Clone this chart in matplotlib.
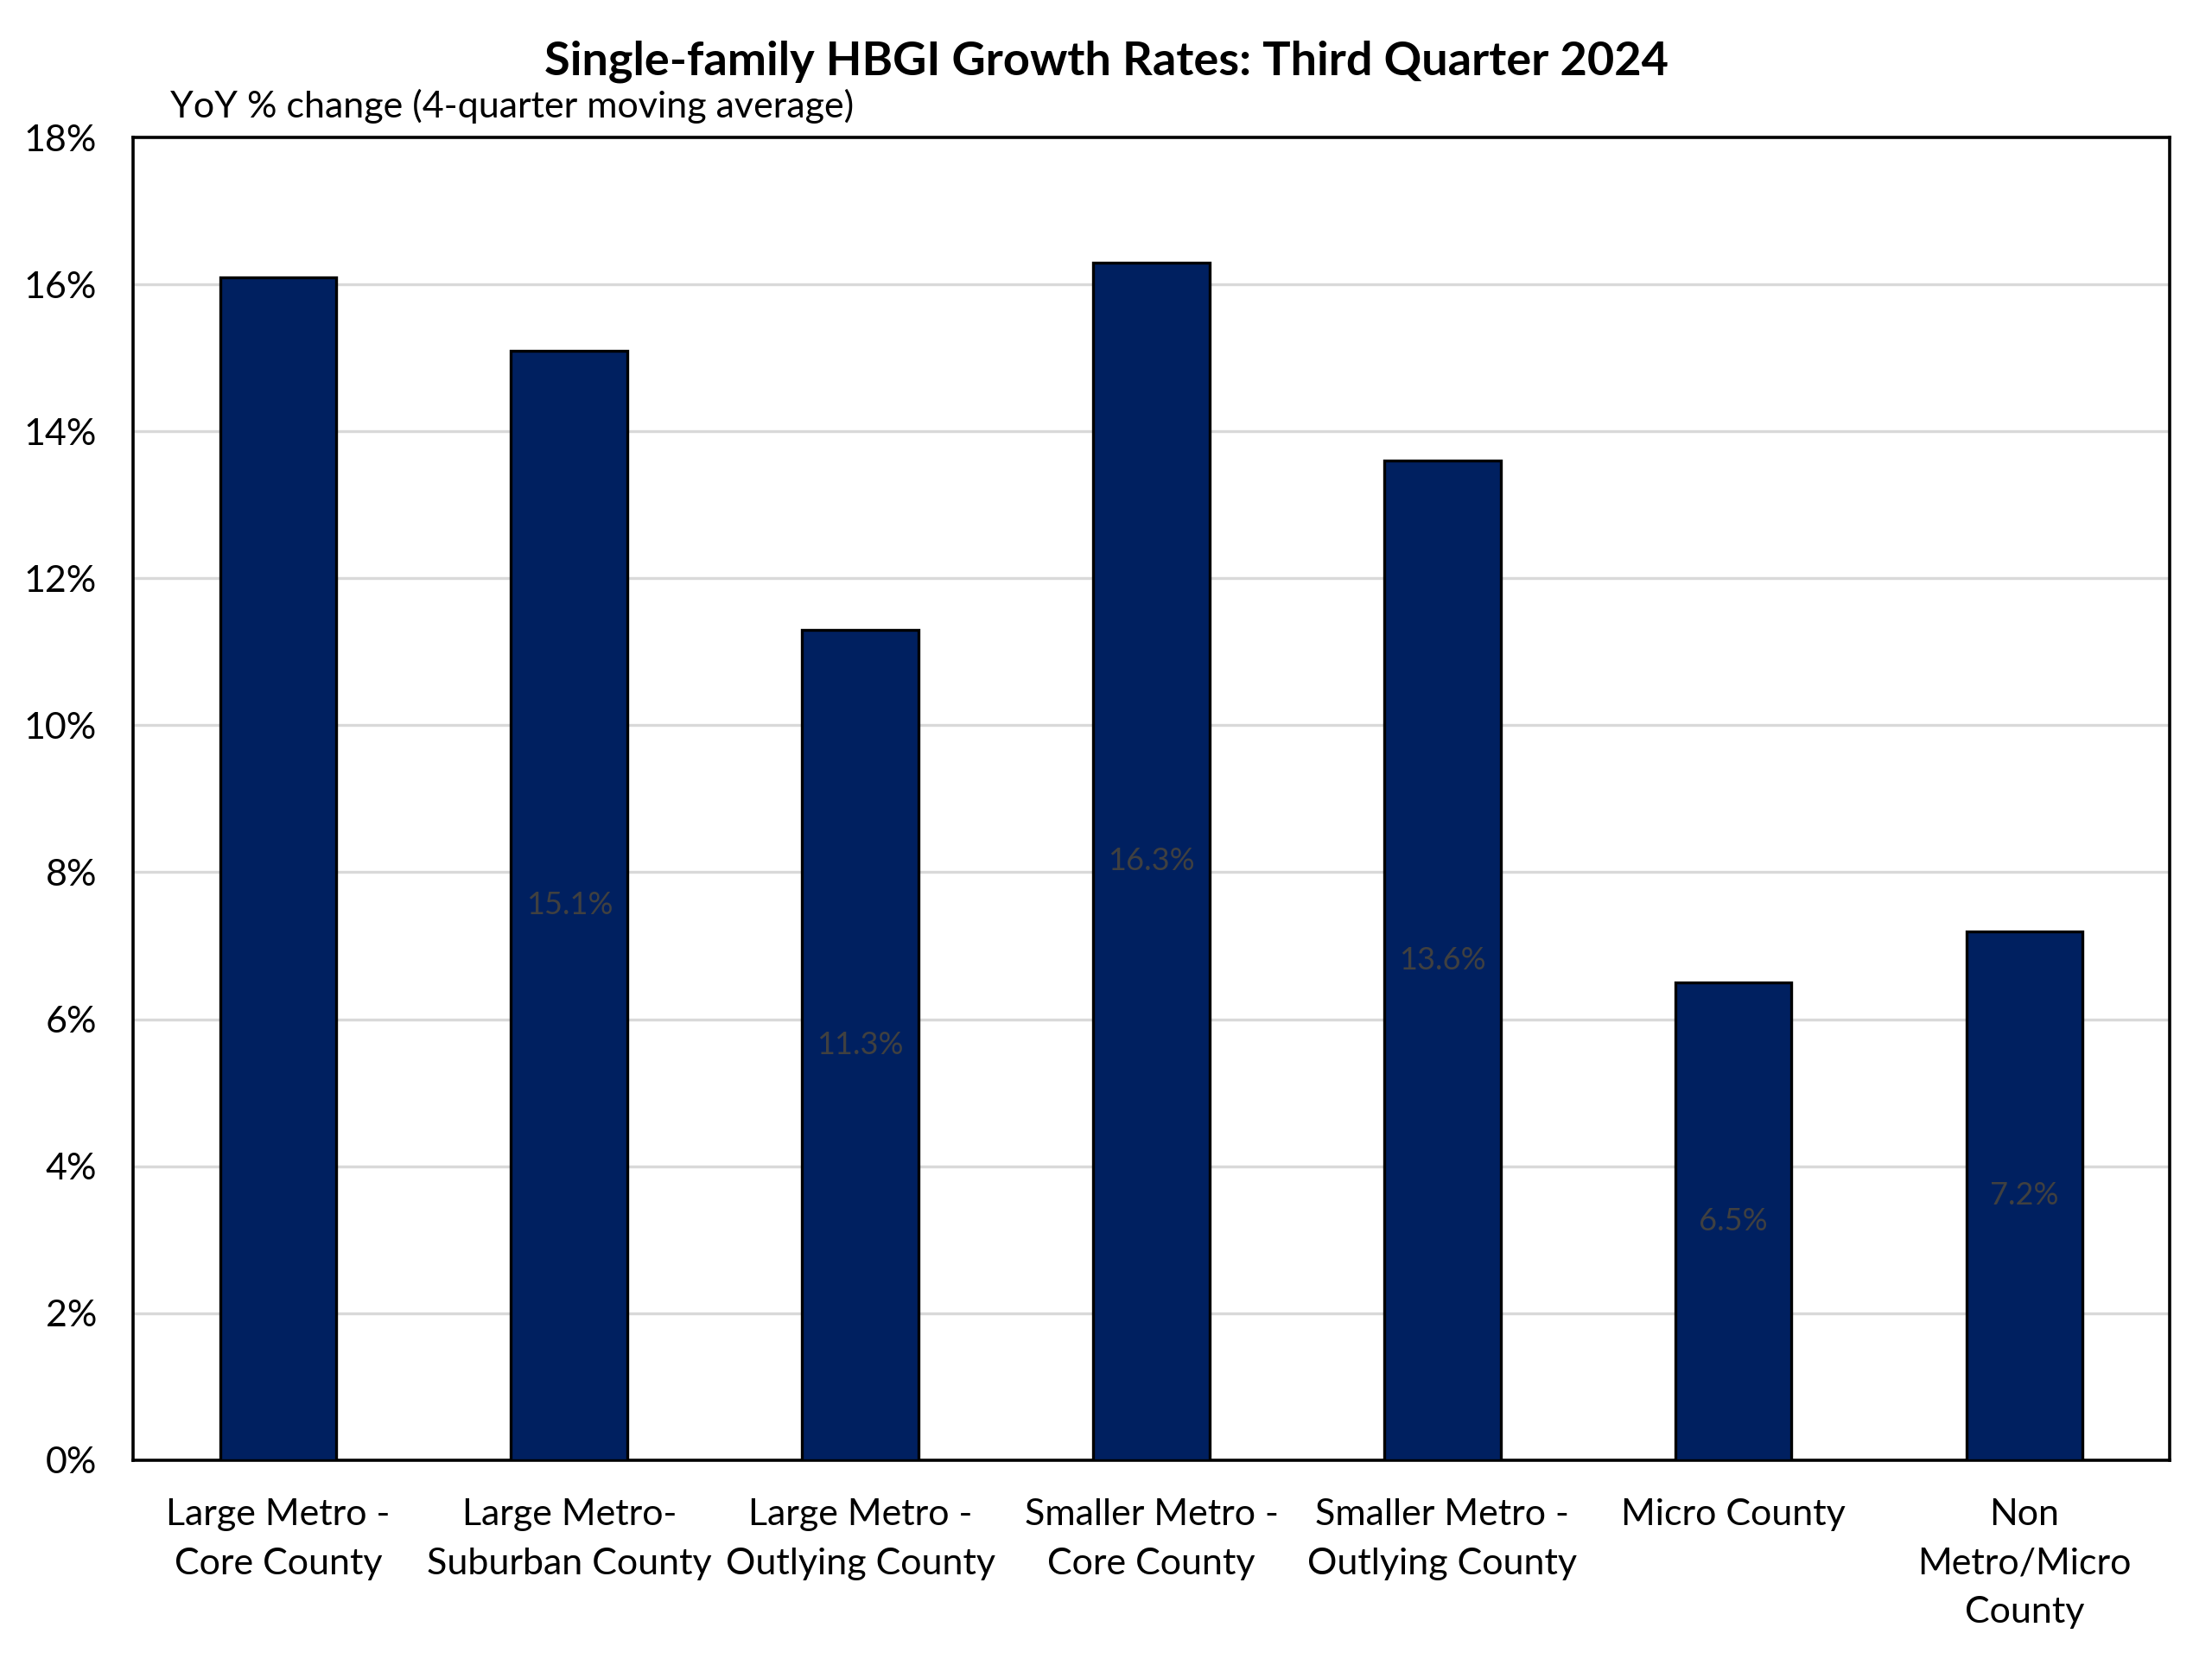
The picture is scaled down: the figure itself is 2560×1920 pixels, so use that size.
import matplotlib.pyplot as plt
import numpy as np

categories = ['Large Metro -\nCore County', 'Large Metro-\nSuburban County',
              'Large Metro -\nOutlying County', 'Smaller Metro -\nCore County',
              'Smaller Metro -\nOutlying County', 'Micro County',
              'Non\nMetro/Micro\nCounty']
values = [16.1, 15.1, 11.3, 16.3, 13.6, 6.5, 7.2]
labels = ['', '15.1%', '11.3%', '16.3%', '13.6%', '6.5%', '7.2%']
yticks = [0, 2, 4, 6, 8, 10, 12, 14, 16, 18]

plt.rcParams['font.family'] = ['Lato', 'DejaVu Sans']

fig = plt.figure(figsize=(12.8, 9.6), dpi=200)
ax = fig.add_axes([0.060, 0.120, 0.921, 0.797])

index = np.arange(len(values))
bars = ax.bar(index, values, 0.40, color='#002060', edgecolor='black', linewidth=1.2, zorder=3)

for rect, lab in zip(bars, labels):
    ax.text(rect.get_x() + rect.get_width() / 2, rect.get_height() / 2, lab,
            ha='center', va='center', fontsize=13, color='#404040', zorder=4)

ax.set_xlim(-0.5, len(values) - 0.5)
ax.set_ylim(0, 18)
ax.set_yticks(yticks)
ax.set_yticklabels([f'{t}%' for t in yticks])
ax.set_xticks(index)
ax.set_xticklabels(categories, linespacing=1.6)
ax.tick_params(axis='both', length=0, labelsize=15.5)
ax.tick_params(axis='x', pad=16)
ax.tick_params(axis='y', pad=15)
for lbl in ax.get_xticklabels():
    lbl.set_verticalalignment('top')
ax.grid(axis='y', color='#d9d9d9', linewidth=1.2, zorder=0)
for s in ax.spines.values():
    s.set_color('black')
    s.set_linewidth(1.3)

fig.text(0.5, 0.963, 'Single-family HBGI Growth Rates: Third Quarter 2024',
         ha='center', va='center', fontsize=19.5, fontweight='bold')
fig.text(0.077, 0.936, 'YoY % change (4-quarter moving average)',
         ha='left', va='center', fontsize=15.5)

plt.savefig('out.png')
